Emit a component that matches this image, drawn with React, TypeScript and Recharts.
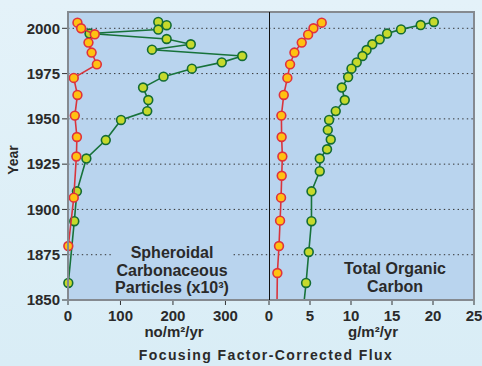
import React from 'react';
import { ScatterChart, Scatter, XAxis, YAxis, CartesianGrid } from 'recharts';

const yearTicks = [1850, 1875, 1900, 1925, 1950, 1975, 2000];
const scpTicks = [0, 100, 200, 300];
const tocTicks = [0, 5, 10, 15, 20, 25];

// Spheroidal carbonaceous particles, x10^3 no/m2/yr (last entry = line end at axis)
const scpRedYears = [2003.1, 2000, 1996.7, 1992.1, 1986.6, 1980.1, 1972.6, 1963.2, 1951.8, 1940, 1929.2, 1906.5, 1879.8, 1850];
const scpRedValues = [18, 25, 51, 39, 45, 55, 11, 18, 13, 17, 16, 11, 0.6, 0];
const scpGreenYears = [2003.5, 2001.7, 1999.3, 1997.1, 1994.1, 1991.2, 1988.2, 1984.7, 1981.2, 1977.7, 1973.3, 1967.3, 1960.4, 1954.3, 1949.4, 1938.3, 1928.1, 1910, 1893.5, 1859.4, 1850];
const scpGreenValues = [172, 188, 172, 41, 188, 234, 160, 332, 293, 236, 182, 143, 153, 151, 101, 72, 35, 17, 12, 0.6, 0];

// Total organic carbon, g/m2/yr
const tocRedYears = [2003.1, 2000, 1996.5, 1992.1, 1986.6, 1980.1, 1972.6, 1963.2, 1951.8, 1940, 1929.2, 1918.6, 1906.5, 1893.8, 1879.8, 1864.9, 1850];
const tocRedValues = [6.43, 5.42, 4.77, 3.99, 3.1, 2.57, 2.24, 1.8, 1.51, 1.54, 1.63, 1.55, 1.47, 1.35, 1.22, 1.02, 0.98];
const tocGreenYears = [2003.5, 2001.8, 1999.4, 1997.1, 1993.9, 1991.2, 1988, 1984.7, 1981.2, 1977.7, 1973.1, 1967.3, 1960.4, 1954.3, 1949.4, 1943.9, 1938.6, 1933.2, 1928.1, 1921.1, 1910, 1893.5, 1876.5, 1859.4, 1850];
const tocGreenValues = [20.1, 18.5, 16.1, 14.4, 13.5, 12.6, 11.9, 11.4, 10.7, 10.06, 9.65, 8.88, 9.24, 8.14, 7.33, 7.17, 7.53, 7.08, 6.19, 6.19, 5.18, 5.18, 4.85, 4.52, 4.3];

const toPoints = (years: number[], values: number[]) =>
  years.map((year, i) => ({ year, value: values[i], end: year === 1850 }));

const FONT = '"Liberation Sans", Arial, Helvetica, sans-serif';
const TEXT = '#2a2a2a';
const PLOT_BG = '#b9d4ee';

const RED = { line: '#d8343c', fill: '#ffc111', stroke: '#e0323c' };
const GREEN = { line: '#17723a', fill: '#c6d92b', stroke: '#146c34' };

const makeDot = (c: { fill: string; stroke: string }) => (props: any) => {
  const { cx, cy, payload } = props;
  if (payload && payload.end) return <g />;
  return <circle cx={cx} cy={cy} r={4.4} fill={c.fill} stroke={c.stroke} strokeWidth={1.6} />;
};

const tickStyle = { fill: TEXT, fontSize: 15, fontWeight: 700, fontFamily: FONT };

const Panel = ({ red, green, domain, ticks, width, showY, marginLeft, marginRight }: any) => (
  <ScatterChart width={width} height={366} margin={{ top: 12, right: marginRight, bottom: 0, left: marginLeft }}>
    <CartesianGrid vertical={false} stroke="#333" strokeDasharray="1.4 3.2" fill={PLOT_BG} fillOpacity={1} />
    <XAxis
      dataKey="value"
      type="number"
      domain={domain}
      ticks={ticks}
      interval={0}
      height={66}
      tickSize={5}
      tickMargin={5}
      axisLine={false}
      tickLine={{ stroke: '#333' }}
      tick={tickStyle}
    />
    <YAxis
      dataKey="year"
      type="number"
      domain={[1850, 2009]}
      ticks={yearTicks}
      interval={0}
      hide={!showY}
      width={showY ? 68 : 0}
      tickSize={6}
      tickMargin={2}
      axisLine={false}
      tickLine={{ stroke: '#333' }}
      tick={tickStyle}
    />
    <Scatter
      data={green}
      fill={GREEN.fill}
      line={{ stroke: GREEN.line, strokeWidth: 1.6 }}
      shape={makeDot(GREEN)}
      isAnimationActive={false}
    />
    <Scatter
      data={red}
      fill={RED.fill}
      line={{ stroke: RED.line, strokeWidth: 1.6 }}
      shape={makeDot(RED)}
      isAnimationActive={false}
    />
  </ScatterChart>
);

const label = (x: number, y: number, size: number, extra: any = {}) => ({
  position: 'absolute' as const,
  left: x,
  top: y,
  transform: 'translate(-50%, -50%)',
  fontSize: size,
  fontWeight: 700,
  color: TEXT,
  whiteSpace: 'nowrap' as const,
  textAlign: 'center' as const,
  lineHeight: 1.1,
  ...extra,
});

export default function App() {
  return (
    <div
      style={{
        position: 'absolute',
        left: 0,
        top: 0,
        width: 482,
        height: 366,
        overflow: 'hidden',
        background: 'linear-gradient(#e4f2f9, #d9edf6)',
        fontFamily: FONT,
      }}
    >
      <div style={{ position: 'absolute', left: 0, top: 0 }}>
        <Panel red={toPoints(scpRedYears, scpRedValues)} green={toPoints(scpGreenYears, scpGreenValues)}
          domain={[0, 383]} ticks={scpTicks} width={270} showY marginLeft={0} marginRight={1} />
      </div>
      <div style={{ position: 'absolute', left: 249, top: 0 }}>
        <Panel red={toPoints(tocRedYears, tocRedValues)} green={toPoints(tocGreenYears, tocGreenValues)}
          domain={[0, 25]} ticks={tocTicks} width={233} showY={false} marginLeft={20} marginRight={8} />
      </div>

      {/* frame + divider */}
      <div style={{ position: 'absolute', left: 67, top: 11, width: 408, height: 290, boxSizing: 'border-box', border: '2px solid #858a90', pointerEvents: 'none' }} />
      <div style={{ position: 'absolute', left: 269, top: 12, width: 1, height: 288, background: '#111' }} />

      {/* panel labels */}
      <div style={label(172, 270, 16, { background: PLOT_BG, padding: '0 2px' })}>
        Spheroidal<br />Carbonaceous<br />Particles (x10³)
      </div>
      <div style={label(395, 278, 16)}>
        Total Organic<br />Carbon
      </div>

      {/* axis titles */}
      <div style={label(174, 332, 15)}>no/m²/yr</div>
      <div style={label(373, 332, 15)}>g/m²/yr</div>
      <div style={label(266, 356, 14, { letterSpacing: 1.4 })}>Focusing Factor-Corrected Flux</div>
      <div style={label(14, 160, 14, { transform: 'translate(-50%, -50%) rotate(-90deg)' })}>Year</div>
    </div>
  );
}
